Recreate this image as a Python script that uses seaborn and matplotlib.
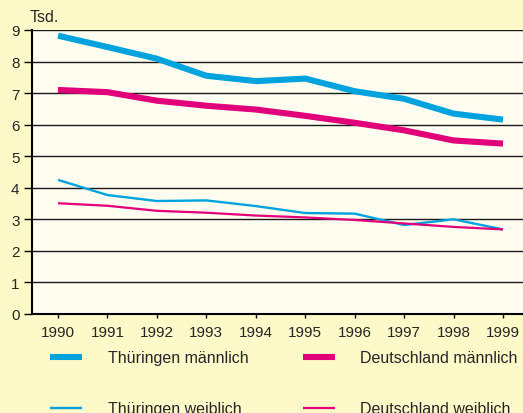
import pandas as pd
import numpy as np
import matplotlib
matplotlib.use('Agg')
import matplotlib.pyplot as plt
import seaborn as sns

years = [1990, 1991, 1992, 1993, 1994, 1995, 1996, 1997, 1998, 1999]
thueringen_m = [8.82, 8.46, 8.09, 7.55, 7.38, 7.46, 7.06, 6.82, 6.35, 6.16]
deutschland_m = [7.10, 7.03, 6.76, 6.60, 6.48, 6.28, 6.06, 5.82, 5.50, 5.40]
thueringen_w = [4.25, 3.77, 3.58, 3.60, 3.42, 3.20, 3.18, 2.82, 3.00, 2.68]
deutschland_w = [3.51, 3.43, 3.27, 3.21, 3.12, 3.06, 2.98, 2.87, 2.76, 2.68]
y_ticks = [0, 1, 2, 3, 4, 5, 6, 7, 8, 9]

cyan = '#00A3DD'
magenta = '#E2007A'

sns.set_style('white')
plt.rcParams['font.family'] = ['Liberation Sans', 'DejaVu Sans']

fig = plt.figure(figsize=(5.23, 4.14), dpi=100)
fig.patch.set_facecolor('#FEF9C8')
ax = fig.add_axes([32 / 523, 1 - 315 / 414, (523 - 32) / 523, (315 - 31) / 414])
ax.set_facecolor('#FFFDF0')

series = [
    ('Thüringen männlich', thueringen_m, cyan, 4.4),
    ('Deutschland männlich', deutschland_m, magenta, 4.4),
    ('Thüringen weiblich', thueringen_w, cyan, 1.7),
    ('Deutschland weiblich', deutschland_w, magenta, 1.6),
]
for name, vals, col, lw in series:
    df = pd.DataFrame({'Jahr': years, 'Wert': vals})
    sns.lineplot(data=df, x='Jahr', y='Wert', color=col, linewidth=lw, ax=ax, label=name,
                 solid_capstyle='butt')

ax.set_xlim(1990 - 26 / 49.44, 1999 + 20 / 49.44)
ax.set_ylim(0, 9)
ax.set_yticks(y_ticks)
ax.set_xticks(years)
ax.set_xlabel('')
ax.set_ylabel('')
for y in y_ticks[1:]:
    ax.axhline(y, color='#1a1a1a', linewidth=1.0, zorder=0)
for s in ['top', 'right']:
    ax.spines[s].set_visible(False)
ax.spines['left'].set_color('black')
ax.spines['left'].set_linewidth(1.5)
ax.spines['bottom'].set_color('black')
ax.spines['bottom'].set_linewidth(1.5)
ax.tick_params(axis='y', length=6, width=1, color='black', labelsize=11, pad=3, left=True)
ax.tick_params(axis='x', length=3, width=1, color='black', labelsize=11, pad=5, bottom=True)

fig.text(30 / 523, 1 - 22 / 414, 'Tsd.', fontsize=11.5, va='baseline', ha='left')

handles, labels = ax.get_legend_handles_labels()
ax.get_legend().remove()
order = [0, 2, 1, 3]
fig.legend([handles[i] for i in order], [labels[i] for i in order], ncol=2, loc='upper left',
           bbox_to_anchor=(36 / 523, 1 - 337 / 414), frameon=False, fontsize=11.5,
           handlelength=2.0, handletextpad=1.6, columnspacing=3.4, labelspacing=2.25)

fig.savefig('out.png', dpi=100, facecolor=fig.get_facecolor())
